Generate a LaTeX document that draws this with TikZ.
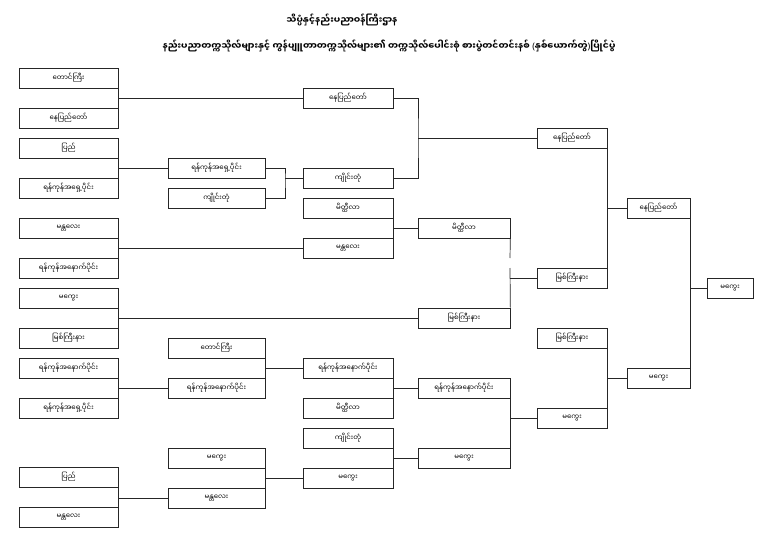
\documentclass[tikz,border=0pt]{standalone}
\usepackage{fontspec}
\newfontfamily\mya[Script=Myanmar]{Noto Sans Myanmar UI}
\newfontfamily\lat{Noto Sans}
\begin{document}
\begin{tikzpicture}[x=1pt,y=-1pt,
  ln/.style={line width=0.7pt,draw=black!85},
  bx/.style={draw=black!85,line width=0.7pt,minimum height=20pt,inner sep=0pt,font=\mya\fontsize{7}{8}\selectfont},
  w1/.style={bx,minimum width=99pt},
  w2/.style={bx,minimum width=97pt},
  w3/.style={bx,minimum width=90pt},
  w4/.style={bx,minimum width=92pt},
  w5/.style={bx,minimum width=70pt},
  w6/.style={bx,minimum width=63pt},
  w7/.style={bx,minimum width=46pt},
  ttl/.style={font=\mya\bfseries\fontsize{9}{11}\selectfont,inner sep=0pt}]
\useasboundingbox (0,0) rectangle (768,543);
\fill[white] (0,0) rectangle (768,543);
% title
\node[ttl] (t1) at (342,20) {သိပ္ပံနှင့်နည်းပညာဝန်ကြီးဌာန};
\node[ttl] (t2) at (389,46) {နည်းပညာတက္ကသိုလ်များနှင့် ကွန်ပျူတာတက္ကသိုလ်များ၏ တက္ကသိုလ်ပေါင်းစုံ စားပွဲတင်တင်းနစ် {\lat\bfseries(}နှစ်ယောက်တွဲ{\lat\bfseries)}ပြိုင်ပွဲ};
% column 1
\node[w1] (a1) at (68.5,78) {တောင်ကြီး};
\node[w1] (a2) at (68.5,118) {နေပြည်တော်};
\node[w1] (a3) at (68.5,148) {ပြည်};
\node[w1] (a4) at (68.5,188) {ရန်ကုန်အရှေ့ပိုင်း};
\node[w1] (a5) at (68.5,228) {မန္တလေး};
\node[w1] (a6) at (68.5,268) {ရန်ကုန်အနောက်ပိုင်း};
\node[w1] (a7) at (68.5,298) {မကွေး};
\node[w1] (a8) at (68.5,338) {မြစ်ကြီးနား};
\node[w1] (a9) at (68.5,368) {ရန်ကုန်အနောက်ပိုင်း};
\node[w1] (a10) at (68.5,408) {ရန်ကုန်အရှေ့ပိုင်း};
\node[w1] (a11) at (68.5,477) {ပြည်};
\node[w1] (a12) at (68.5,517) {မန္တလေး};
% column 2
\node[w2] (b1) at (216.5,168) {ရန်ကုန်အရှေ့ပိုင်း};
\node[w2] (b2) at (216.5,198) {ကျိုင်းတုံ};
\node[w2] (b3) at (216.5,348) {တောင်ကြီး};
\node[w2] (b4) at (216.5,388) {ရန်ကုန်အနောက်ပိုင်း};
\node[w2] (b5) at (216.5,458) {မကွေး};
\node[w2] (b6) at (216.5,498) {မန္တလေး};
% column 3
\node[w3] (c1) at (348,98) {နေပြည်တော်};
\node[w3] (c2) at (348,178) {ကျိုင်းတုံ};
\node[w3] (c3) at (348,208) {မိတ္ထီလာ};
\node[w3] (c4) at (348,248) {မန္တလေး};
\node[w3] (c5) at (348,368) {ရန်ကုန်အနောက်ပိုင်း};
\node[w3] (c6) at (348,408) {မိတ္ထီလာ};
\node[w3] (c7) at (348,438) {ကျိုင်းတုံ};
\node[w3] (c8) at (348,478) {မကွေး};
% column 4
\node[w4] (d1) at (464,228) {မိတ္ထီလာ};
\node[w4] (d2) at (464,318) {မြစ်ကြီးနား};
\node[w4] (d3) at (464,388) {ရန်ကုန်အနောက်ပိုင်း};
\node[w4] (d4) at (464,458) {မကွေး};
% column 5
\node[w5] (e1) at (572,138) {နေပြည်တော်};
\node[w5] (e2) at (572,278) {မြစ်ကြီးနား};
\node[w5] (e3) at (572,338) {မြစ်ကြီးနား};
\node[w5] (e4) at (572,418) {မကွေး};
% column 6
\node[w6] (f1) at (658.5,208) {နေပြည်တော်};
\node[w6] (f2) at (658.5,378) {မကွေး};
% column 7
\node[w7] (g1) at (730,288) {မကွေး};
% connectors: column 1 pairs
\draw[ln] (a1.south east) -- (a2.north east);
\draw[ln] (a1.east |- c1.west) -- (c1.west);
\draw[ln] (a3.south east) -- (a4.north east);
\draw[ln] (a3.east |- b1.west) -- (b1.west);
\draw[ln] (a5.south east) -- (a6.north east);
\draw[ln] (a5.east |- c4.west) -- (c4.west);
\draw[ln] (a7.south east) -- (a8.north east);
\draw[ln] (a7.east |- d2.west) -- (d2.west);
\draw[ln] (a9.south east) -- (a10.north east);
\draw[ln] (a9.east |- b4.west) -- (b4.west);
\draw[ln] (a11.south east) -- (a12.north east);
\draw[ln] (a11.east |- b6.west) -- (b6.west);
% column 2
\coordinate (j1) at (285,178);
\draw[ln] (b1.east) -| (j1) |- (b2.east);
\draw[ln] (j1) -- (c2.west);
\draw[ln] (b3.south east) -- (b4.north east);
\draw[ln] (b3.east |- c5.west) -- (c5.west);
\draw[ln] (b5.south east) -- (b6.north east);
\draw[ln] (b5.east |- c8.west) -- (c8.west);
% column 3
\coordinate (j2) at (418,138);
\draw[ln] (c1.east) -| (j2) |- (c2.east);
\draw[ln] (j2) -- (e1.west);
\draw[ln] (c3.south east) -- (c4.north east);
\draw[ln] (c3.east |- d1.west) -- (d1.west);
\draw[ln] (c5.south east) -- (c6.north east);
\draw[ln] (c5.east |- d3.west) -- (d3.west);
\draw[ln] (c7.south east) -- (c8.north east);
\draw[ln] (c7.east |- d4.west) -- (d4.west);
% column 4
\coordinate (k1) at (510,258);
\coordinate (k2) at (510,268);
\draw[ln] (d1.south east) -- (k1);
\draw[ln] (k2) -- (d2.north east);
\draw[ln] (d1.east |- e2.west) -- (e2.west);
\draw[ln] (d3.south east) -- (d4.north east);
\draw[ln] (d3.east |- e4.west) -- (e4.west);
% column 5
\draw[ln] (e1.south east) -- (e2.north east);
\draw[ln] (e1.east |- f1.west) -- (f1.west);
\draw[ln] (e3.south east) -- (e4.north east);
\draw[ln] (e3.east |- f2.west) -- (f2.west);
% column 6
\draw[ln] (f1.south east) -- (f2.north east);
\draw[ln] (f1.east |- g1.west) -- (g1.west);
\end{tikzpicture}
\end{document}
